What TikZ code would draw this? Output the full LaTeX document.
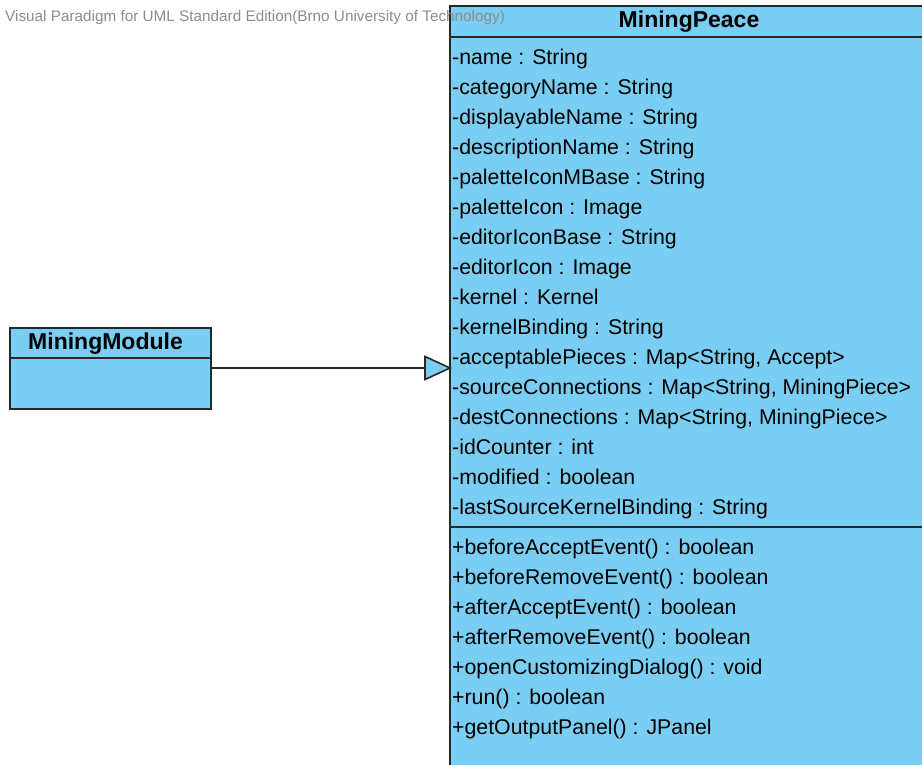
\documentclass[tikz,border=0pt]{standalone}
\usepackage{fontspec}
\setmainfont{Liberation Sans}
\definecolor{umlfill}{RGB}{122,206,244}
\definecolor{umlline}{RGB}{40,40,40}
\definecolor{wmark}{RGB}{140,140,140}
\begin{document}
\begin{tikzpicture}[x=1pt,y=-1pt,
  classbox/.style={draw=umlline,fill=umlfill,line width=1.6pt},
  sepline/.style={draw=umlline,line width=1.6pt},
  member/.style={anchor=base west,inner sep=0pt,font=\fontsize{21.3}{23}\selectfont,text=black},
  cname/.style={inner sep=0pt,font=\fontsize{23}{25}\bfseries\selectfont,text=black},
  gen/.style={draw=umlline,line width=1.6pt}]
\useasboundingbox (0,0) rectangle (922,765);
\clip (0,0) rectangle (922,765);
% MiningPeace class
\path[classbox] (450,6) rectangle (935,780);
\coordinate (mpl) at (450,368);
\draw[sepline] (450,37) -- (935,37);
\draw[sepline] (450,527) -- (935,527);
\node[cname] (mp) at (689,22) {MiningPeace};
\foreach \t [count=\i from 0] in {-name : String,-categoryName : String,-displayableName : String,-descriptionName : String,-paletteIconMBase : String,-paletteIcon : Image,-editorIconBase : String,-editorIcon : Image,-kernel : Kernel,-kernelBinding : String,{-acceptablePieces : Map<String, Accept>},{-sourceConnections : Map<String, MiningPiece>},{-destConnections : Map<String, MiningPiece>},-idCounter : int,-modified : boolean,-lastSourceKernelBinding : String}
  \node[member] (a\i) at (452,{64.5+30*\i}) {\t};
\foreach \t [count=\i from 0] in {+beforeAcceptEvent() : boolean,+beforeRemoveEvent() : boolean,+afterAcceptEvent() : boolean,+afterRemoveEvent() : boolean,+openCustomizingDialog() : void,+run() : boolean,+getOutputPanel() : JPanel}
  \node[member] (m\i) at (452,{554.5+30*\i}) {\t};
% MiningModule class
\path[classbox] (10,328) rectangle (211,409);
\draw[sepline] (10,358) -- (211,358);
\node[cname] (mm) at (105.5,344) {MiningModule};
\coordinate (mmr) at (211,368);
% generalization
\coordinate (tb) at (425,368);
\draw[gen] (mmr) -- (tb);
\draw[gen,fill=umlfill,line join=miter] (mpl) -- (425,356.5) -- (425,379.5) -- cycle;
% watermark (drawn on top)
\node[anchor=west,inner sep=0pt,text=wmark,font=\fontsize{15.3}{17}\selectfont] (wm) at (5,18) {Visual Paradigm for UML Standard Edition(Brno University of Technology)};
\end{tikzpicture}
\end{document}
